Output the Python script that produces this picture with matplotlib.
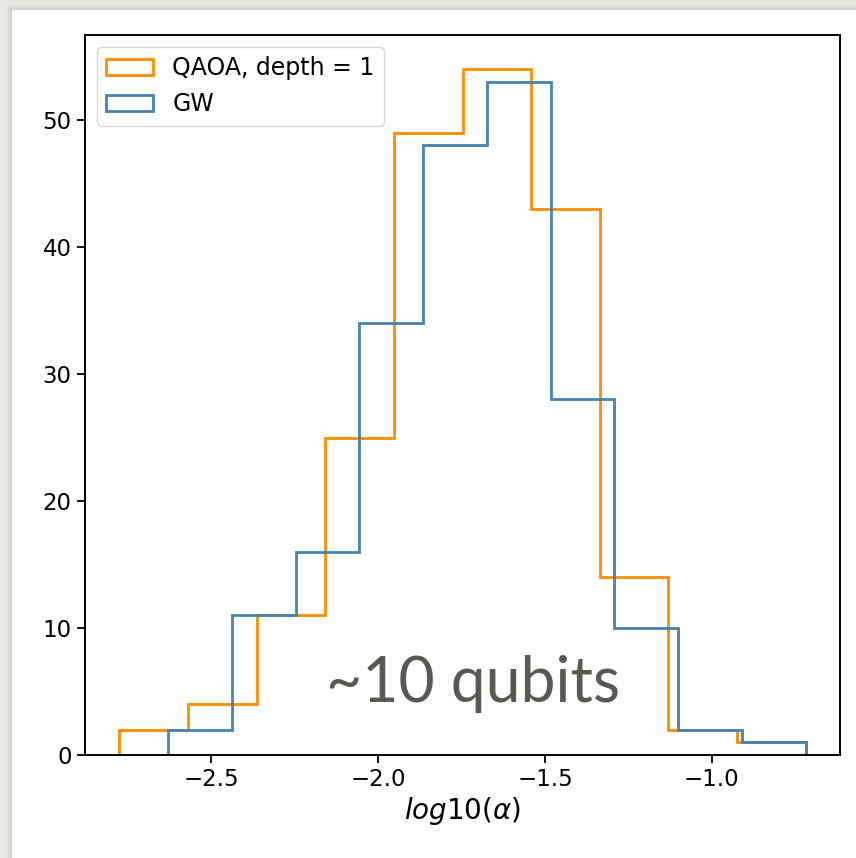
import numpy as np
import matplotlib.pyplot as plt
from matplotlib.patches import Rectangle

# histogram bins (log10 of alpha) and counts per bin
qaoa_range = (-2.775, -0.719)
qaoa_counts = [2, 4, 11, 25, 49, 54, 43, 14, 2, 1]
gw_range = (-2.629, -0.719)
gw_counts = [2, 11, 16, 34, 48, 53, 28, 10, 2, 1]
labels = ["QAOA, depth = 1", "GW"]
colors = ["darkorange", "steelblue"]

W, H = 856, 858
fig = plt.figure(figsize=(W / 100, H / 100), dpi=100)
fig.patch.set_facecolor("#e9e7e3")

# slide panel with a soft shadow
for k, a in [(6, 0.05), (4, 0.07), (2, 0.1)]:
    fig.patches.append(Rectangle(((12 - k) / W, 0), 1, (H - 10 + k) / H,
                                 transform=fig.transFigure, facecolor="#8a8884",
                                 edgecolor="none", alpha=a, zorder=-10))
fig.patches.append(Rectangle((12 / W, 0), 1, (H - 10) / H, transform=fig.transFigure,
                             facecolor="white", edgecolor="none", zorder=-9))

ax = fig.add_axes([85 / W, (H - 755) / H, (840 - 85) / W, (755 - 35) / H])
ax.set_facecolor("white")

for rng, counts, lab, c in [(qaoa_range, qaoa_counts, labels[0], colors[0]),
                            (gw_range, gw_counts, labels[1], colors[1])]:
    edges = np.linspace(rng[0], rng[1], len(counts) + 1)
    centers = (edges[:-1] + edges[1:]) / 2
    ax.hist(centers, bins=edges, weights=counts, histtype="step",
            color=c, linewidth=2.0, label=lab)

fs = 16.5
ax.set_xticks([-2.5, -2.0, -1.5, -1.0])
ax.set_yticks([0, 10, 20, 30, 40, 50])
ax.tick_params(labelsize=fs, length=6, width=1.3)
for s in ax.spines.values():
    s.set_linewidth(1.4)
ax.set_xlabel(r"$log10(\alpha)$", fontsize=20, labelpad=3)
ax.legend(loc="upper left", fontsize=17)

ax.text(0.514, 0.074, "~10 qubits", transform=ax.transAxes, ha="center", va="baseline",
        fontsize=45, family=["Lato", "DejaVu Sans"], color="#5b5853")

fig.savefig("out.png", dpi=100, facecolor=fig.get_facecolor())
